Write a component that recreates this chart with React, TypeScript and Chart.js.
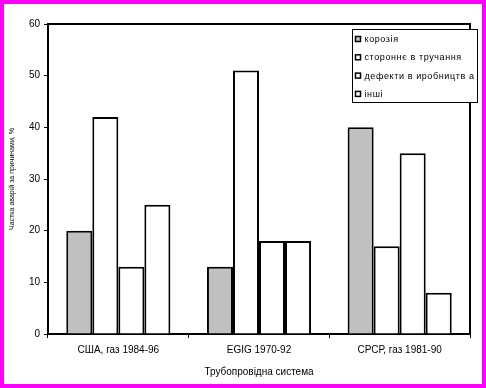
import React, { useEffect, useRef } from "react";
import { Chart, registerables } from "chart.js";

Chart.register(...registerables);

const categories = ["США, газ 1984-96", "EGIG 1970-92", "СРСР, газ 1981-90"];
const seriesNames = ["корозія", "стороннє втручання", "дефекти виробництва", "інші"];
const seriesLegendText = ["корозія", "стороннє в тручання", "дефекти в иробництв а", "інші"];
const corrosion = [20, 13, 40];
const external = [42, 51, 17];
const defects = [13, 18, 35];
const other = [25, 18, 8];
const seriesColors = ["#C0C0C0", "#FFFFFF", "#FFFFFF", "#FFFFFF"];
const yTitle = "Частка аварій за причинами, %";
const xTitle = "Трубопровідна система";

const FONT = "'Liberation Sans', Arial, sans-serif";

const framePlugin = {
  id: "frame",
  afterDraw(chart: any) {
    const { ctx, chartArea } = chart;
    ctx.save();
    ctx.strokeStyle = "#000";
    ctx.lineWidth = 2;
    ctx.beginPath();
    ctx.moveTo(chartArea.left, chartArea.top);
    ctx.lineTo(chartArea.right, chartArea.top);
    ctx.lineTo(chartArea.right, chartArea.bottom);
    ctx.stroke();
    // legend
    const x0 = 348, y0 = 25, w = 125, h = 73;
    ctx.fillStyle = "#fff";
    ctx.fillRect(x0, y0, w, h);
    ctx.lineWidth = 1;
    ctx.strokeRect(x0 + 0.5, y0 + 0.5, w, h);
    ctx.font = "9px " + FONT;
    (ctx as any).letterSpacing = "0.6px";
    ctx.textBaseline = "middle";
    chart.data.datasets.forEach((ds: any, i: number) => {
      const cy = 35 + i * 18.3;
      ctx.fillStyle = ds.backgroundColor;
      ctx.fillRect(351.5, cy - 2.5, 5, 5);
      ctx.lineWidth = 1.5;
      ctx.strokeStyle = "#000";
      ctx.strokeRect(351.5, cy - 2.5, 5, 5);
      ctx.fillStyle = "#000";
      ctx.fillText(seriesLegendText[i], 360.5, cy + 0.5);
    });
    ctx.restore();
  },
};

export default function App() {
  const ref = useRef<HTMLCanvasElement>(null);
  useEffect(() => {
    const values = [corrosion, external, defects, other];
    const chart = new Chart(ref.current!, {
      type: "bar",
      data: {
        labels: categories,
        datasets: seriesNames.map((name, i) => ({
          label: name,
          data: values[i],
          backgroundColor: seriesColors[i],
          borderColor: "#000",
          borderWidth: 2,
          borderSkipped: "start",
          categoryPercentage: 0.74,
          barPercentage: 1,
        })),
      },
      options: {
        animation: false,
        responsive: false,
        maintainAspectRatio: false,
        layout: { padding: { left: 0, top: 20, right: 12, bottom: 0 } },
        plugins: { legend: { display: false }, tooltip: { enabled: false } },
        scales: {
          x: {
            grid: { display: true, drawOnChartArea: false, drawTicks: true, tickLength: 4, color: "#000", lineWidth: 1, offset: true },
            border: { display: true, color: "#000", width: 2 },
            ticks: { color: "#000", font: { family: FONT, size: 10 }, padding: 6, maxRotation: 0 },
            title: { display: true, text: xTitle, color: "#000", font: { family: FONT, size: 10 }, padding: { top: 4, bottom: 6 } },
            afterFit: (s: any) => { s.height = 50; },
          },
          y: {
            min: 0,
            max: 60,
            ticks: { stepSize: 10, color: "#000", font: { family: FONT, size: 10 }, padding: 4 },
            grid: { display: true, drawOnChartArea: false, drawTicks: true, tickLength: 4, color: "#000", lineWidth: 1 },
            border: { display: true, color: "#000", width: 2 },
            title: { display: true, text: yTitle, color: "#000", font: { family: FONT, size: 7 }, padding: { top: 4, bottom: 4 } },
            afterFit: (s: any) => { s.width = 44; },
          },
        },
      },
      plugins: [framePlugin],
    });
    return () => chart.destroy();
  }, []);
  return (
    <div
      style={{
        position: "fixed",
        left: 0,
        top: 0,
        width: 486,
        height: 388,
        boxSizing: "border-box",
        border: "4px solid #FF00FF",
        background: "#fff",
      }}
    >
      <canvas ref={ref} width={478} height={380} style={{ display: "block", width: 478, height: 380 }} />
    </div>
  );
}
